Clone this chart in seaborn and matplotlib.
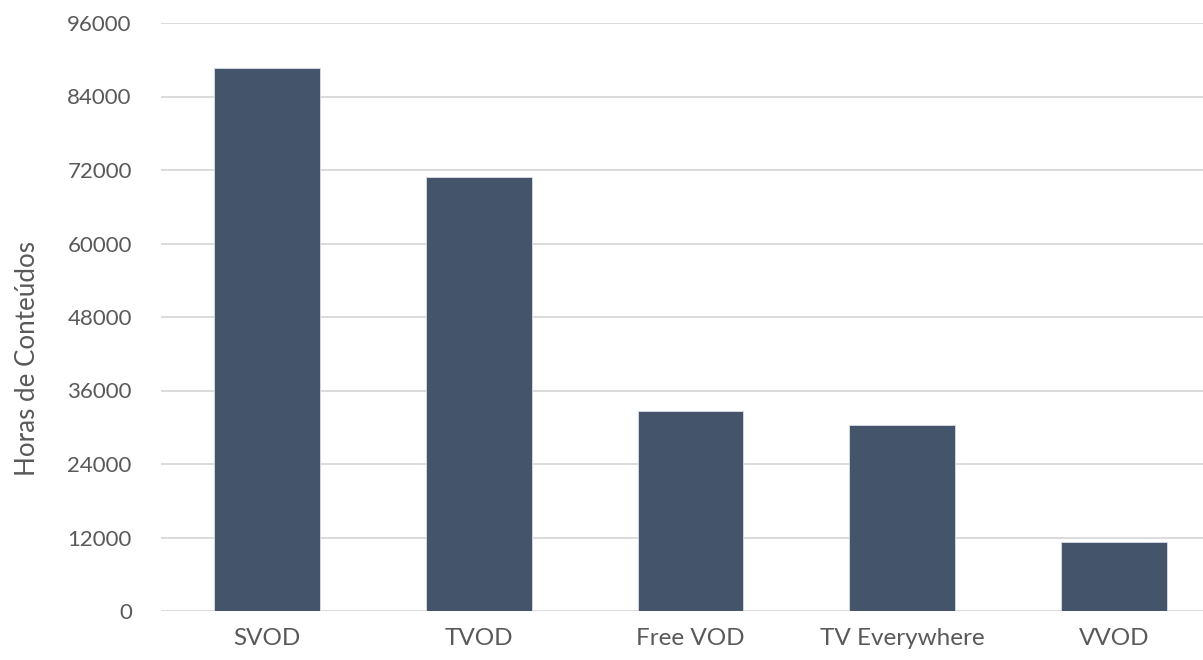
import numpy as np
import pandas as pd
import matplotlib
matplotlib.use("Agg")
import matplotlib.pyplot as plt
import seaborn as sns

# dados
categorias = ["SVOD", "TVOD", "Free VOD", "TV Everywhere", "VVOD"]
horas = [88650, 70900, 32600, 30400, 11200]
yticks = [0, 12000, 24000, 36000, 48000, 60000, 72000, 84000, 96000]

df = pd.DataFrame({"categoria": categorias, "horas": horas})

sns.set_theme(style="white")
plt.rcParams["font.family"] = ["Lato", "DejaVu Sans"]

fig = plt.figure(figsize=(12.03, 6.6), dpi=100)
ax = fig.add_axes([161 / 1203, 49 / 660, 1059 / 1203, 588 / 660])

sns.barplot(data=df, x="categoria", y="horas", color="#44546A", saturation=1,
            width=0.5, edgecolor="#D9DEE6", linewidth=0.6, ax=ax)

ax.set_ylim(0, 96000)
ax.set_xlim(-0.5, 4.5)
ax.set_yticks(yticks)
ax.set_yticklabels([str(t) for t in yticks])
ax.yaxis.grid(True, color="#D9D9D9", linewidth=1.3)
ax.set_axisbelow(True)
for s in ax.spines.values():
    s.set_visible(False)

ax.tick_params(axis="y", length=0, pad=21, labelsize=16, labelcolor="#595959")
ax.tick_params(axis="x", length=0, pad=12, labelsize=17.5, labelcolor="#595959")
ax.set_xlabel("")
ax.set_ylabel("Horas de Conteúdos", fontsize=18.7, color="#595959")
ax.yaxis.set_label_coords(-0.114, 0.43)

fig.savefig("out.png", dpi=100)
